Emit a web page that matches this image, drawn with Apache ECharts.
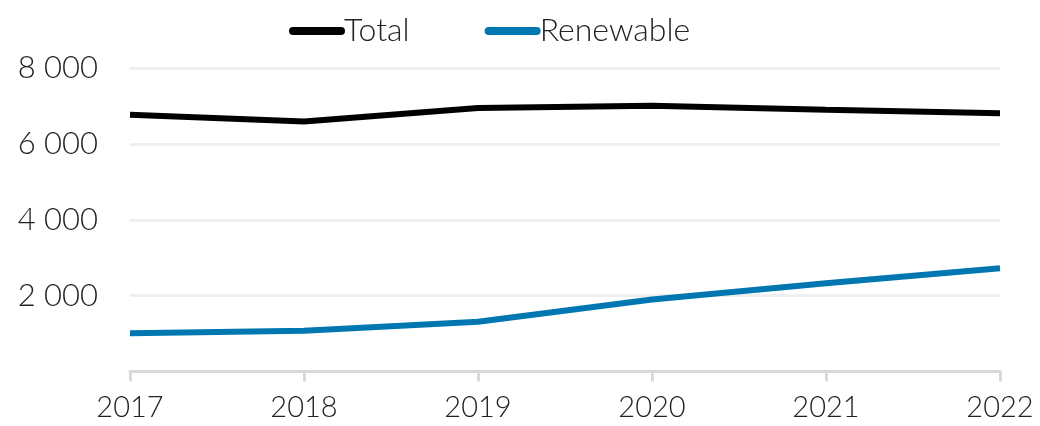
<!DOCTYPE html>
<html>
<head>
<meta charset="utf-8">
<script src="https://cdn.jsdelivr.net/npm/echarts@6/dist/echarts.min.js"></script>
<style>html,body{margin:0;padding:0;background:#fff}#c{width:1040px;height:426px}</style>
</head>
<body>
<div id="c"></div>
<script>
const years = ['2017','2018','2019','2020','2021','2022'];
const total = [6770, 6590, 6945, 7005, 6900, 6810];
const renewable = [1005, 1075, 1310, 1900, 2325, 2720];
const seriesNames = ['Total','Renewable'];
const seriesColors = ['#000000','#0077b0'];

const FONT = 'Lato';
const chart = echarts.init(document.getElementById('c'));
const legendIcon = 'path://M4,0 L52,0 A4,4 0 0 1 52,8 L4,8 A4,4 0 0 1 4,0 Z';
chart.setOption({
  animation: false,
  textStyle: {fontFamily: FONT},
  legend: {
    top: 10, left: 284,
    itemWidth: 56, itemHeight: 8, itemGap: 75,
    data: seriesNames.map((n,i)=>({name:n, icon: legendIcon, itemStyle:{color:seriesColors[i], borderWidth:0}})),
    textStyle: {fontSize: 32, color: '#222', fontWeight: 300, fontFamily: FONT, padding:[0,0,0,-6]}
  },
  grid: {left: 130, right: 40, top: 68, bottom: 54.5, containLabel: false},
  xAxis: {
    type: 'category', data: years, boundaryGap: false,
    axisLine: {lineStyle: {color: '#d9d9d9', width: 3}},
    axisTick: {show: true, length: 10, lineStyle: {color: '#d9d9d9', width: 3}},
    axisLabel: {fontSize: 29, color: '#222', fontWeight: 300, margin: 22, fontFamily: FONT},
    splitLine: {show: false}
  },
  yAxis: {
    type: 'value', min: 0, max: 8000, interval: 2000,
    axisLine: {show: false}, axisTick: {show: false},
    axisLabel: {fontSize: 31, color: '#222', fontWeight: 300, margin: 32, fontFamily: FONT,
      formatter: v => v === 0 ? '' : String(v).replace(/\B(?=(\d{3})+(?!\d))/g, ' ')},
    splitLine: {lineStyle: {color: '#efefef', width: 3}}
  },
  series: [
    {name: seriesNames[0], type: 'line', data: total, symbol: 'none', lineStyle: {color: seriesColors[0], width: 6}, itemStyle:{color:seriesColors[0]}},
    {name: seriesNames[1], type: 'line', data: renewable, symbol: 'none', lineStyle: {color: seriesColors[1], width: 6}, itemStyle:{color:seriesColors[1]}}
  ]
});
</script>
</body>
</html>
